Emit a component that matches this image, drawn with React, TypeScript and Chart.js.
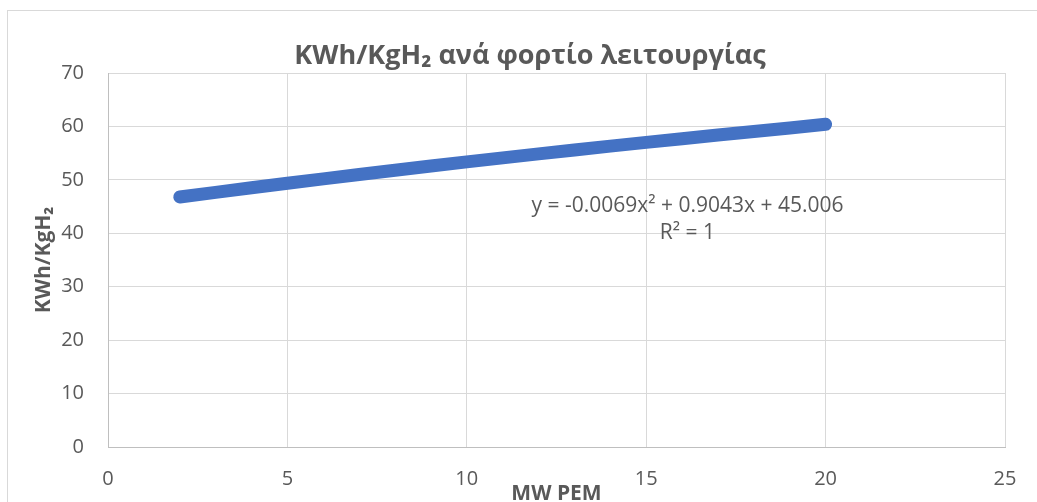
import React, { useEffect, useRef } from "react";
import { Chart, registerables } from "chart.js";

Chart.register(...registerables);

const mwPem = [2, 3, 4, 5, 6, 7, 8, 9, 10, 11, 12, 13, 14, 15, 16, 17, 18, 19, 20];
const kwhPerKg = [46.8, 47.66, 48.51, 49.36, 50.18, 51.0, 51.8, 52.59, 53.36, 54.12, 54.86, 55.6, 56.31, 57.02, 57.71, 58.39, 59.05, 59.7, 60.4];

const chartTitle = "KWh/KgH\u2082 ανά φορτίο λειτουργίας";
const xTitle = "MW PEM";
const yTitle = "KWh/KgH\u2082";
const trendEquation = "y = -0.0069x\u00B2 + 0.9043x + 45.006";
const trendR2 = "R\u00B2 = 1";

const FONT = "'Open Sans', 'DejaVu Sans', sans-serif";
const TEXT = "#595959";

const overlayPlugin = {
  id: "overlay",
  beforeDraw(chart: any) {
    const ctx = chart.ctx;
    ctx.save();
    ctx.strokeStyle = "#d9d9d9";
    ctx.lineWidth = 1;
    ctx.strokeRect(7.5, 10.5, 1200, 1000);
    ctx.restore();
  },
  afterDraw(chart: any) {
    const ctx = chart.ctx;
    const area = chart.chartArea;
    const xs = chart.scales.x;
    const ys = chart.scales.y;
    ctx.save();
    ctx.fillStyle = TEXT;
    ctx.textAlign = "center";
    ctx.textBaseline = "alphabetic";
    ctx.font = `bold 27px ${FONT}`;
    ctx.fillText(chartTitle, 530, 64);
    ctx.font = `bold 21px ${FONT}`;
    ctx.fillText(xTitle, (area.left + area.right) / 2, 500);
    ctx.save();
    ctx.translate(50, (area.top + area.bottom) / 2);
    ctx.rotate(-Math.PI / 2);
    ctx.fillText(yTitle, 0, 0);
    ctx.restore();
    ctx.font = `21px ${FONT}`;
    const ex = xs.getPixelForValue(16.15);
    ctx.fillText(trendEquation, ex, ys.getPixelForValue(44.0));
    ctx.fillText(trendR2, ex, ys.getPixelForValue(38.9));
    ctx.restore();
  },
};

export default function App() {
  const ref = useRef<HTMLCanvasElement>(null);
  useEffect(() => {
    if (!ref.current) return;
    const chart = new Chart(ref.current, {
      type: "scatter",
      data: {
        datasets: [
          {
            data: mwPem.map((x, i) => ({ x, y: kwhPerKg[i] })),
            showLine: true,
            borderColor: "#4472C4",
            backgroundColor: "#4472C4",
            borderWidth: 13,
            borderCapStyle: "round",
            borderJoinStyle: "round",
            pointRadius: 0,
            tension: 0,
          } as any,
        ],
      },
      options: {
        responsive: false,
        animation: false,
        layout: { padding: { left: 48, right: 32, top: 73, bottom: 43 } },
        plugins: {
          legend: { display: false },
          title: { display: false },
          tooltip: { enabled: false },
        },
        scales: {
          x: {
            type: "linear",
            min: 0,
            max: 25,
            ticks: { stepSize: 5, color: TEXT, font: { family: FONT, size: 20 }, padding: 20 },
            grid: { color: "#d9d9d9", lineWidth: 1, drawTicks: false },
            border: { color: "#bfbfbf", width: 1 },
            afterFit: (s: any) => {
              s.height = 40;
            },
          },
          y: {
            min: 0,
            max: 70,
            ticks: { stepSize: 10, color: TEXT, font: { family: FONT, size: 20 }, padding: 24 },
            grid: { color: "#d9d9d9", lineWidth: 1, drawTicks: false },
            border: { color: "#bfbfbf", width: 1 },
            afterFit: (s: any) => {
              s.width = 60;
            },
          },
        },
      },
      plugins: [overlayPlugin],
    });
    return () => chart.destroy();
  }, []);
  return (
    <div style={{ position: "absolute", left: 0, top: 0, width: 1037, height: 502, overflow: "hidden", background: "#fff" }}>
      <canvas ref={ref} width={1037} height={530} style={{ width: 1037, height: 530, display: "block" }} />
    </div>
  );
}
